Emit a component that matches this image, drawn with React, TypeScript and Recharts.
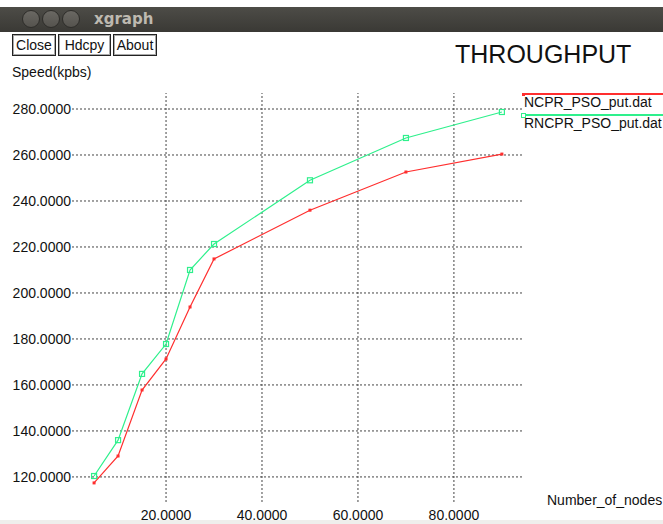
import React from "react";
import { LineChart, Line, XAxis, YAxis, ReferenceLine } from "recharts";

const nodes = [5, 10, 15, 20, 25, 30, 50, 70, 90];
const ncprPso = [117.4, 129.1, 157.8, 171.3, 193.9, 214.8, 236.0, 252.6, 260.4];
const rncprPso = [120.4, 136.0, 164.8, 177.8, 210.0, 221.3, 249.0, 267.4, 278.7];
const xTicks = [20, 40, 60, 80];
const yTicks = [120, 140, 160, 180, 200, 220, 240, 260, 280];

const series = [
  { key: "ncpr", name: "NCPR_PSO_put.dat", color: "#ff2e2e", marker: "dot" },
  { key: "rncpr", name: "RNCPR_PSO_put.dat", color: "#2ef08c", marker: "box" },
];

const data = nodes.map((n, i) => ({ n, ncpr: ncprPso[i], rncpr: rncprPso[i] }));

const font = "'Liberation Sans', Arial, Helvetica, sans-serif";

function RedDot(props: any) {
  const { cx, cy, index } = props;
  if (cx == null || cy == null) return null;
  return <rect key={`r${index}`} x={cx - 1.5} y={cy - 1.5} width={3} height={3} fill="#ff2e2e" />;
}

function GreenBox(props: any) {
  const { cx, cy, index } = props;
  if (cx == null || cy == null) return null;
  return (
    <rect
      key={`g${index}`}
      x={cx - 2.5}
      y={cy - 2.5}
      width={5}
      height={5}
      fill="none"
      stroke="#2ef08c"
      strokeWidth={1.2}
    />
  );
}

function Btn({ left, width, label }: { left: number; width: number; label: string }) {
  return (
    <div
      style={{
        position: "absolute",
        left,
        top: 34,
        width,
        height: 22,
        boxSizing: "border-box",
        border: "1px solid #222",
        boxShadow: "inset 0 0 0 1px #aaa",
        fontFamily: font,
        fontSize: 14,
        lineHeight: "20px",
        textAlign: "center",
        color: "#111",
        background: "#fff",
      }}
    >
      {label}
    </div>
  );
}

export default function App() {
  return (
    <div
      style={{
        position: "absolute",
        left: 0,
        top: 0,
        width: 663,
        height: 524,
        background: "#fff",
        overflow: "hidden",
        fontFamily: font,
      }}
    >
      <div style={{ position: "absolute", left: 0, top: 0 }}>
        <LineChart width={663} height={524} data={data} margin={{ top: 93, right: 140, bottom: 0, left: 0 }}>
          <XAxis
            dataKey="n"
            type="number"
            domain={[0.4, 94.4]}
            ticks={xTicks}
            allowDataOverflow
            height={22}
            axisLine={false}
            tickLine={false}
            tickSize={0}
            tickMargin={8}
            tickFormatter={(v: number) => v.toFixed(4)}
            tick={{ fill: "#111", fontSize: 14, fontFamily: font }}
            interval={0}
          />
          <YAxis
            type="number"
            domain={[109.1, 286.96]}
            ticks={yTicks}
            allowDataOverflow
            width={72}
            axisLine={false}
            tickLine={false}
            tickSize={0}
            tickMargin={1}
            tickFormatter={(v: number) => v.toFixed(4)}
            tick={{ fill: "#111", fontSize: 14, fontFamily: font }}
            interval={0}
          />
          {yTicks.map((t) => (
            <ReferenceLine key={`h${t}`} y={t} stroke="#444" strokeDasharray="2 2" strokeWidth={1} />
          ))}
          {xTicks.map((t) => (
            <ReferenceLine key={`v${t}`} x={t} stroke="#444" strokeDasharray="2 2" strokeWidth={1} />
          ))}
          <Line
            type="linear"
            dataKey="ncpr"
            name={series[0].name}
            stroke={series[0].color}
            strokeWidth={1.2}
            dot={RedDot}
            activeDot={false}
            isAnimationActive={false}
          />
          <Line
            type="linear"
            dataKey="rncpr"
            name={series[1].name}
            stroke={series[1].color}
            strokeWidth={1.2}
            dot={GreenBox}
            activeDot={false}
            isAnimationActive={false}
          />
        </LineChart>
      </div>

      {/* window title bar */}
      <div
        style={{
          position: "absolute",
          left: 0,
          top: 7,
          width: 663,
          height: 25,
          background: "linear-gradient(#4d4c47, #3a3935)",
        }}
      >
        {[31, 51, 71].map((c) => (
          <div
            key={c}
            style={{
              position: "absolute",
              left: c - 9,
              top: 3,
              width: 18,
              height: 18,
              borderRadius: 9,
              background: "linear-gradient(#6a6863, #55534e)",
              border: "1px solid #2e2d2a",
              boxSizing: "border-box",
            }}
          />
        ))}
        <div
          style={{
            position: "absolute",
            left: 94,
            top: 3,
            fontSize: 15,
            fontWeight: "bold",
            color: "#bdb9b0",
            fontFamily: "'DejaVu Sans', sans-serif",
            lineHeight: "18px",
          }}
        >
          xgraph
        </div>
      </div>

      <Btn left={12} width={44} label="Close" />
      <Btn left={58} width={53} label="Hdcpy" />
      <Btn left={113} width={44} label="About" />

      <div style={{ position: "absolute", left: 455, top: 42, fontSize: 25, lineHeight: "25px", color: "#111" }}>
        THROUGHPUT
      </div>
      <div style={{ position: "absolute", left: 12, top: 64, fontSize: 14, lineHeight: "16px", color: "#111" }}>
        Speed(kpbs)
      </div>
      <div
        style={{
          position: "absolute",
          left: 547,
          top: 492,
          fontSize: 14,
          lineHeight: "16px",
          color: "#111",
          whiteSpace: "nowrap",
        }}
      >
        Number_of_nodes
      </div>

      {/* legend */}
      {series.map((s, i) => {
        const y = 93 + i * 21;
        const isDot = s.marker === "dot";
        return (
          <React.Fragment key={s.key}>
            <div
              style={{
                position: "absolute",
                left: 523,
                top: y,
                width: 140,
                height: 2,
                background: s.color,
              }}
            />
            <div
              style={{
                position: "absolute",
                left: isDot ? 522 : 521,
                top: isDot ? y - 0.5 : y - 1.5,
                width: isDot ? 3 : 5,
                height: isDot ? 3 : 5,
                boxSizing: "border-box",
                background: isDot ? s.color : "#fff",
                border: isDot ? "none" : `1px solid ${s.color}`,
              }}
            />
            <div
              style={{
                position: "absolute",
                left: 524,
                top: y + 2,
                fontSize: 14,
                lineHeight: "14px",
                color: "#111",
                whiteSpace: "nowrap",
              }}
            >
              {s.name}
            </div>
          </React.Fragment>
        );
      })}

      <div style={{ position: "absolute", left: 0, top: 520, width: 663, height: 4, background: "#efeeec" }} />
    </div>
  );
}
